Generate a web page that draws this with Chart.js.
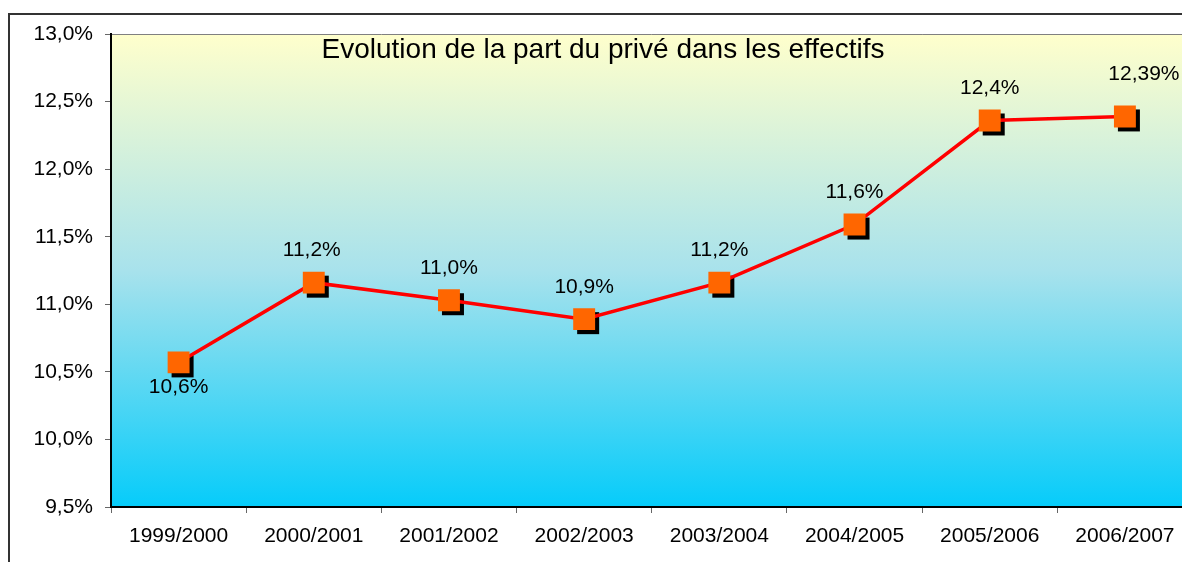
<!DOCTYPE html>
<html>
<head>
<meta charset="utf-8">
<script src="https://cdn.jsdelivr.net/npm/chart.js@4.4.1/dist/chart.umd.min.js"></script>
<style>
  html, body { margin: 0; padding: 0; background: #fff; }
  #wrap { width: 1182px; height: 562px; position: relative; overflow: hidden; }
</style>
</head>
<body>
<div id="wrap"><canvas id="myChart" width="1208" height="562"></canvas></div>
<script>
// Données
const annees = ['1999/2000', '2000/2001', '2001/2002', '2002/2003', '2003/2004', '2004/2005', '2005/2006', '2006/2007'];
const partPrive = [10.57, 11.16, 11.03, 10.89, 11.16, 11.59, 12.36, 12.39];
const etiquettes = ['10,6%', '11,2%', '11,0%', '10,9%', '11,2%', '11,6%', '12,4%', '12,39%'];
const titre = 'Evolution de la part du privé dans les effectifs';

const police = '"Liberation Sans", Arial, sans-serif';

// Fond dégradé + cadre
const fondPlugin = {
    id: 'fond',
    beforeDraw(chart) {
        const { ctx, chartArea: a } = chart;
        ctx.save();
        const g = ctx.createLinearGradient(0, a.top, 0, a.bottom);
        g.addColorStop(0, '#FFFFCC');
        g.addColorStop(0.5, '#A8E2EC');
        g.addColorStop(1, '#06CCFA');
        ctx.fillStyle = g;
        ctx.fillRect(a.left, a.top, a.right - a.left, a.bottom - a.top);
        ctx.strokeStyle = '#808080';
        ctx.lineWidth = 1;
        ctx.beginPath();
        ctx.moveTo(a.left, a.top + 0.5);
        ctx.lineTo(a.right, a.top + 0.5);
        ctx.stroke();
        // cadre extérieur
        ctx.strokeStyle = '#333';
        ctx.lineWidth = 2;
        ctx.beginPath();
        ctx.moveTo(9, 600);
        ctx.lineTo(9, 14);
        ctx.lineTo(1220, 14);
        ctx.stroke();
        ctx.restore();
    }
};

// Ombres des marqueurs
const ombrePlugin = {
    id: 'ombre',
    beforeDatasetsDraw(chart) {
        const { ctx } = chart;
        const meta = chart.getDatasetMeta(0);
        ctx.save();
        ctx.fillStyle = '#000';
        meta.data.forEach(function (p) {
            ctx.fillRect(p.x - 11 + 4, p.y - 11 + 4, 22, 22);
        });
        ctx.restore();
    }
};

// Étiquettes et titre
const textePlugin = {
    id: 'texte',
    afterDatasetsDraw(chart) {
        const { ctx } = chart;
        const meta = chart.getDatasetMeta(0);
        ctx.save();
        ctx.fillStyle = '#000';
        ctx.font = '21px ' + police;
        ctx.textAlign = 'center';
        ctx.textBaseline = 'middle';
        meta.data.forEach(function (p, i) {
            let dx = 0, dy = -32;
            if (i === 0) dy = 25;
            if (i === 1) dx = -2;
            if (i === etiquettes.length - 1) { dx = 19; dy = -42; }
            ctx.fillText(etiquettes[i], p.x + dx, p.y + dy);
        });
        ctx.font = '28px ' + police;
        ctx.fillText(titre, 603, 50);
        ctx.restore();
    }
};

const ctx = document.getElementById('myChart').getContext('2d');
const chart = new Chart(ctx, {
    type: 'line',
    data: {
        labels: annees,
        datasets: [{
            data: partPrive,
            borderColor: '#FF0000',
            borderWidth: 3.5,
            pointStyle: 'rect',
            pointRadius: 15.5,
            pointBackgroundColor: '#FF6600',
            pointBorderColor: '#FF6600',
            pointBorderWidth: 0,
            tension: 0,
            fill: false
        }]
    },
    options: {
        responsive: false,
        animation: false,
        events: [],
        layout: { padding: { top: 34, right: 0, left: 0, bottom: 0 } },
        plugins: {
            legend: { display: false },
            tooltip: { enabled: false }
        },
        scales: {
            x: {
                type: 'category',
                offset: true,
                afterFit: function (s) { s.height = 55; s.paddingLeft = 0; s.paddingRight = 0; },
                grid: {
                    offset: true,
                    drawOnChartArea: false,
                    color: '#666',
                    tickLength: 6
                },
                border: { color: '#000', width: 2 },
                ticks: {
                    color: '#000',
                    font: { family: police, size: 21 },
                    padding: 11,
                    maxRotation: 0
                }
            },
            y: {
                min: 9.5,
                max: 13.0,
                afterFit: function (s) { s.width = 111; },
                grid: {
                    drawOnChartArea: false,
                    color: '#666',
                    tickLength: 6
                },
                border: { color: '#000', width: 2 },
                ticks: {
                    stepSize: 0.5,
                    color: '#000',
                    font: { family: police, size: 21 },
                    padding: 12,
                    callback: function (v) { return v.toFixed(1).replace('.', ',') + '%'; }
                }
            }
        }
    },
    plugins: [fondPlugin, ombrePlugin, textePlugin]
});
</script>
</body>
</html>
